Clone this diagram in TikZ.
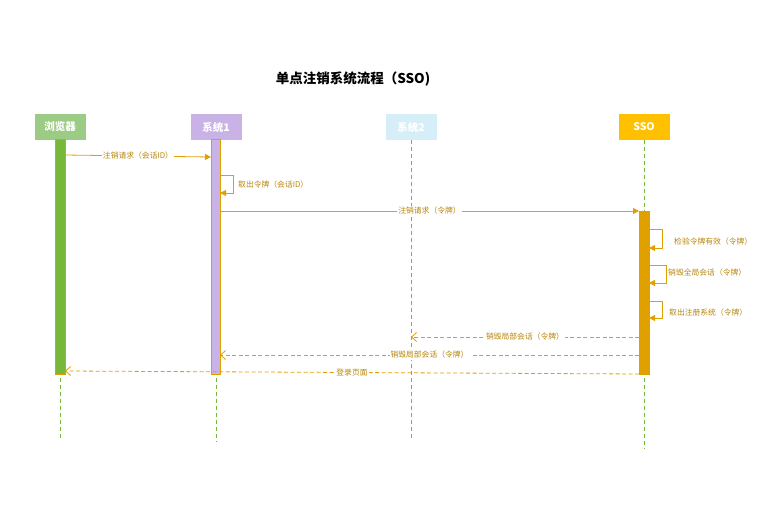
\documentclass[tikz,border=0pt]{standalone}
\usepackage{fontspec}
\setmainfont{Noto Sans CJK SC}
\usetikzlibrary{arrows.meta}
\definecolor{gold}{HTML}{E0A000}
\definecolor{labelc}{HTML}{B8860B}
\definecolor{lifeg}{HTML}{77B83A}
\definecolor{hbrow}{HTML}{9CCB86}
\definecolor{hsys1}{HTML}{C9B3E6}
\definecolor{hsys2}{HTML}{D6EEF8}
\definecolor{hsso}{HTML}{FFC000}
\tikzset{
  head/.style={minimum width=51pt, minimum height=25pt, inner sep=0pt, text=white, font=\fontsize{10.5}{12}\selectfont\bfseries},
  life/.style={draw=lifeg, dashed, dash pattern=on 4pt off 3pt, line width=0.8pt},
  bar/.style={draw=gold, line width=0.8pt},
  msg/.style={draw=gold, line width=0.8pt, -{Triangle[length=6pt,width=6pt]}},
  ret/.style={draw=gold, line width=0.8pt, dashed, dash pattern=on 4pt off 2.5pt, -{Straight Barb[length=5pt,width=9pt]}},
  lbl/.style={fill=white, inner sep=1pt, text=labelc, font=\fontsize{7.8}{9}\selectfont},
  slbl/.style={inner sep=1pt, text=labelc, font=\fontsize{7.8}{9}\selectfont, anchor=west}
}
\begin{document}
\begin{tikzpicture}[x=1pt,y=-1pt]
\useasboundingbox (0,0) rectangle (780,519);
% title
\node[font=\fontsize{13.5}{15}\selectfont\bfseries] (title) at (353,79) {单点注销系统流程（SSO)};
% headers
\node[head, fill=hbrow] (hb) at (60,127) {浏览器};
\node[head, fill=hsys1] (h1) at (216,127) {系统1};
\node[head, fill=hsys2] (h2) at (411,127) {系统2};
\node[head, fill=hsso] (hs) at (644,127) {SSO};
% lifeline ends
\coordinate (eb) at (60,440);
\coordinate (e1) at (216,442);
\coordinate (e2) at (411,440);
\coordinate (es) at (644,448);
\draw[life] (hb.south) -- (eb);
\draw[life] (h1.south) -- (e1);
\draw[life] (h2.south) -- (e2);
\draw[life] (hs.south) -- (es);
% activation bars
\draw[bar, fill=lifeg] (55,139) rectangle (65,374);
\draw[bar, fill=hsys1] (211,139) rectangle (220,374);
\draw[bar, fill=gold] (639,211) rectangle (649,374);
% messages
\coordinate (m1a) at (65,155);
\coordinate (m1b) at (211,157);
\draw[msg] (m1a) -- node[lbl, pos=0.5] {注销请求（会话ID）} (m1b);
% self loop sys1
\coordinate (s1a) at (220,175);
\coordinate (s1b) at (220,193);
\draw[msg] (s1a) -- (233,175) -- (233,193) -- (s1b);
\node[slbl] (l2) at (237,185) {取出令牌（会话ID）};
% request to SSO
\coordinate (m3a) at (220,211);
\coordinate (m3b) at (639,211);
\draw[msg] (m3a) -- node[lbl, pos=0.5] {注销请求（令牌）} (m3b);
% SSO self loops
\coordinate (s4a) at (649,229);
\coordinate (s4b) at (649,248);
\draw[msg] (s4a) -- (662,229) -- (662,248) -- (s4b);
\node[slbl] (l4) at (673,242) {检验令牌有效（令牌）};
\coordinate (s5a) at (649,265);
\coordinate (s5b) at (649,283);
\draw[msg] (s5a) -- (666,265) -- (666,283) -- (s5b);
\node[slbl] (l5) at (667,273) {销毁全局会话（令牌）};
\coordinate (s6a) at (649,301);
\coordinate (s6b) at (649,318);
\draw[msg] (s6a) -- (662,301) -- (662,318) -- (s6b);
\node[slbl] (l6) at (668,313) {取出注册系统（令牌）};
% returns
\coordinate (r1a) at (639,337);
\coordinate (r1b) at (411,337);
\draw[ret] (r1a) -- node[lbl, pos=0.5] {销毁局部会话（令牌）} (r1b);
\coordinate (r2a) at (639,355);
\coordinate (r2b) at (220,355);
\draw[ret] (r2a) -- node[lbl, pos=0.5] {销毁局部会话（令牌）} (r2b);
\coordinate (r3a) at (639,374);
\coordinate (r3b) at (65,371);
\draw[ret] (r3a) -- node[lbl, pos=0.5] {登录页面} (r3b);
\end{tikzpicture}
\end{document}
